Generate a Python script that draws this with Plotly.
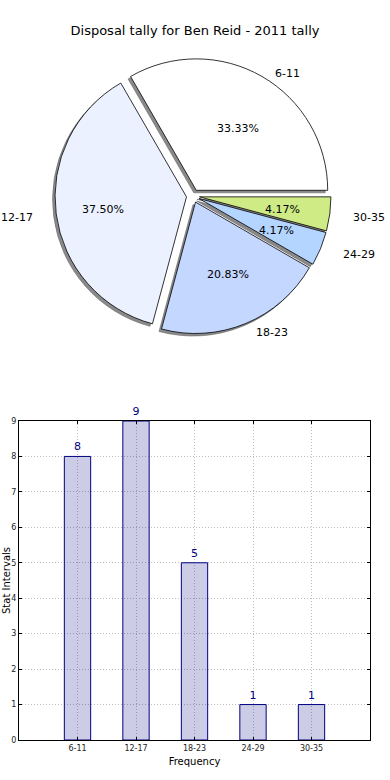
import math
import plotly.graph_objects as go

title = "Disposal tally for Ben Reid - 2011 tally"
categories = ["6-11", "12-17", "18-23", "24-29", "30-35"]
counts = [8, 9, 5, 1, 1]
pie_colors = ["#ffffff", "#ebf1ff", "#c4d7ff", "#b4d5ff", "#cfeb86"]
pulls = [0.05, 0.05, 0.05, 0.05, 0.05]

W, H = 390, 780
FONT = "DejaVu Sans"

total = sum(counts)
# first slice starts at 3 o'clock and runs counterclockwise
first_rot = 90 - 360 * counts[0] / total

# pie geometry in pixels
cx, cy, half = 193, 199, 138
pie_cy = 196               # pie drawing centre (slightly raised to match extents)
rx, ry = 139, 126          # text placement radii (matching the reference's ellipse)
dx_sh, dy_sh = 2.5, 2.5

def dom(cxp, cyp):
    return dict(x=[(cxp - half) / W, (cxp + half) / W],
                y=[1 - (cyp + half) / H, 1 - (cyp - half) / H])

fig = go.Figure()

# shadow pie
fig.add_trace(go.Pie(
    labels=categories, values=counts, sort=False, direction="counterclockwise",
    rotation=first_rot, pull=pulls, domain=dom(cx - dx_sh, pie_cy + dy_sh),
    marker=dict(colors=["#8a8a8a"] * 5, line=dict(width=0.6, color="#6a6a6a")),
    textinfo="none", showlegend=False, hoverinfo="skip",
))

# main pie
fig.add_trace(go.Pie(
    labels=categories, values=counts, sort=False, direction="counterclockwise",
    rotation=first_rot, pull=pulls, domain=dom(cx, pie_cy),
    marker=dict(colors=pie_colors, line=dict(width=0.8, color="#000000")),
    textinfo="none", showlegend=False, hoverinfo="skip",
))

# pie labels (outside) and percentages (inside), placed along each slice's mid-angle
annotations = []
start = 0.0
for lab, v, p in zip(categories, counts, pulls):
    span = 360.0 * v / total
    mid = math.radians(start + span / 2)
    start += span
    c, s = math.cos(mid), math.sin(mid)
    ox, oy = p * rx * c, p * ry * s
    lx = cx + ox + 1.1 * rx * c
    ly = cy - oy - 1.1 * ry * s
    annotations.append(dict(text=lab, x=lx / W, y=1 - ly / H, xref="paper", yref="paper",
                            showarrow=False, xanchor="left" if c > 0 else "right",
                            yanchor="middle", font=dict(family=FONT, size=11, color="#000000")))
    px = cx + ox + 0.6 * rx * c
    py = cy - oy - 0.6 * ry * s
    annotations.append(dict(text=f"{100 * v / total:.2f}%", x=px / W, y=1 - py / H,
                            xref="paper", yref="paper", showarrow=False,
                            xanchor="center", yanchor="middle",
                            font=dict(family=FONT, size=11, color="#000000")))

# bar chart
fig.add_trace(go.Bar(
    x=categories, y=counts, width=0.45,
    marker=dict(color="rgba(0,0,128,0.2)", line=dict(color="#000080", width=1)),
    text=[str(c) for c in counts], textposition="outside",
    textfont=dict(family=FONT, size=11, color="#000080"),
    cliponaxis=False, showlegend=False, hoverinfo="skip",
    xaxis="x", yaxis="y",
))

grid = dict(showgrid=True, gridcolor="#bdbdbd", griddash="1px,2px", gridwidth=1)

annotations.append(dict(text="Stat Intervals", xref="paper", yref="paper",
                        x=6 / W, y=1 - 581 / H, textangle=-90, showarrow=False,
                        font=dict(family=FONT, size=10, color="#000000"),
                        xanchor="center", yanchor="middle"))

fig.update_layout(
    width=W, height=H,
    margin=dict(l=0, r=0, t=0, b=0),
    paper_bgcolor="white", plot_bgcolor="white",
    font=dict(family=FONT, color="#000000"),
    title=dict(text=title, x=0.5, xanchor="center", y=1 - 30 / H, yanchor="middle",
               font=dict(family=FONT, size=13, color="#000000")),
    xaxis=dict(domain=[19 / W, 370 / W], type="category", range=[-1, 5],
               showline=True, linecolor="#000000", linewidth=1, mirror="ticks",
               ticks="inside", ticklen=3, tickcolor="#000000",
               tickfont=dict(family=FONT, size=8, color="#222222"),
               title=dict(text="Frequency", font=dict(family=FONT, size=10), standoff=6),
               automargin=False, fixedrange=True, **grid),
    yaxis=dict(domain=[1 - 740 / H, 1 - 421 / H], range=[0, 9], dtick=1,
               showline=True, linecolor="#000000", linewidth=1, mirror="ticks",
               ticks="inside", ticklen=3, tickcolor="#000000",
               zeroline=False,
               tickfont=dict(family=FONT, size=8, color="#222222"),
               automargin=False, fixedrange=True, **grid),
    annotations=annotations,
)

fig.write_html("out.html", config={"displayModeBar": False},
               post_script="document.body.style.margin='0';")
